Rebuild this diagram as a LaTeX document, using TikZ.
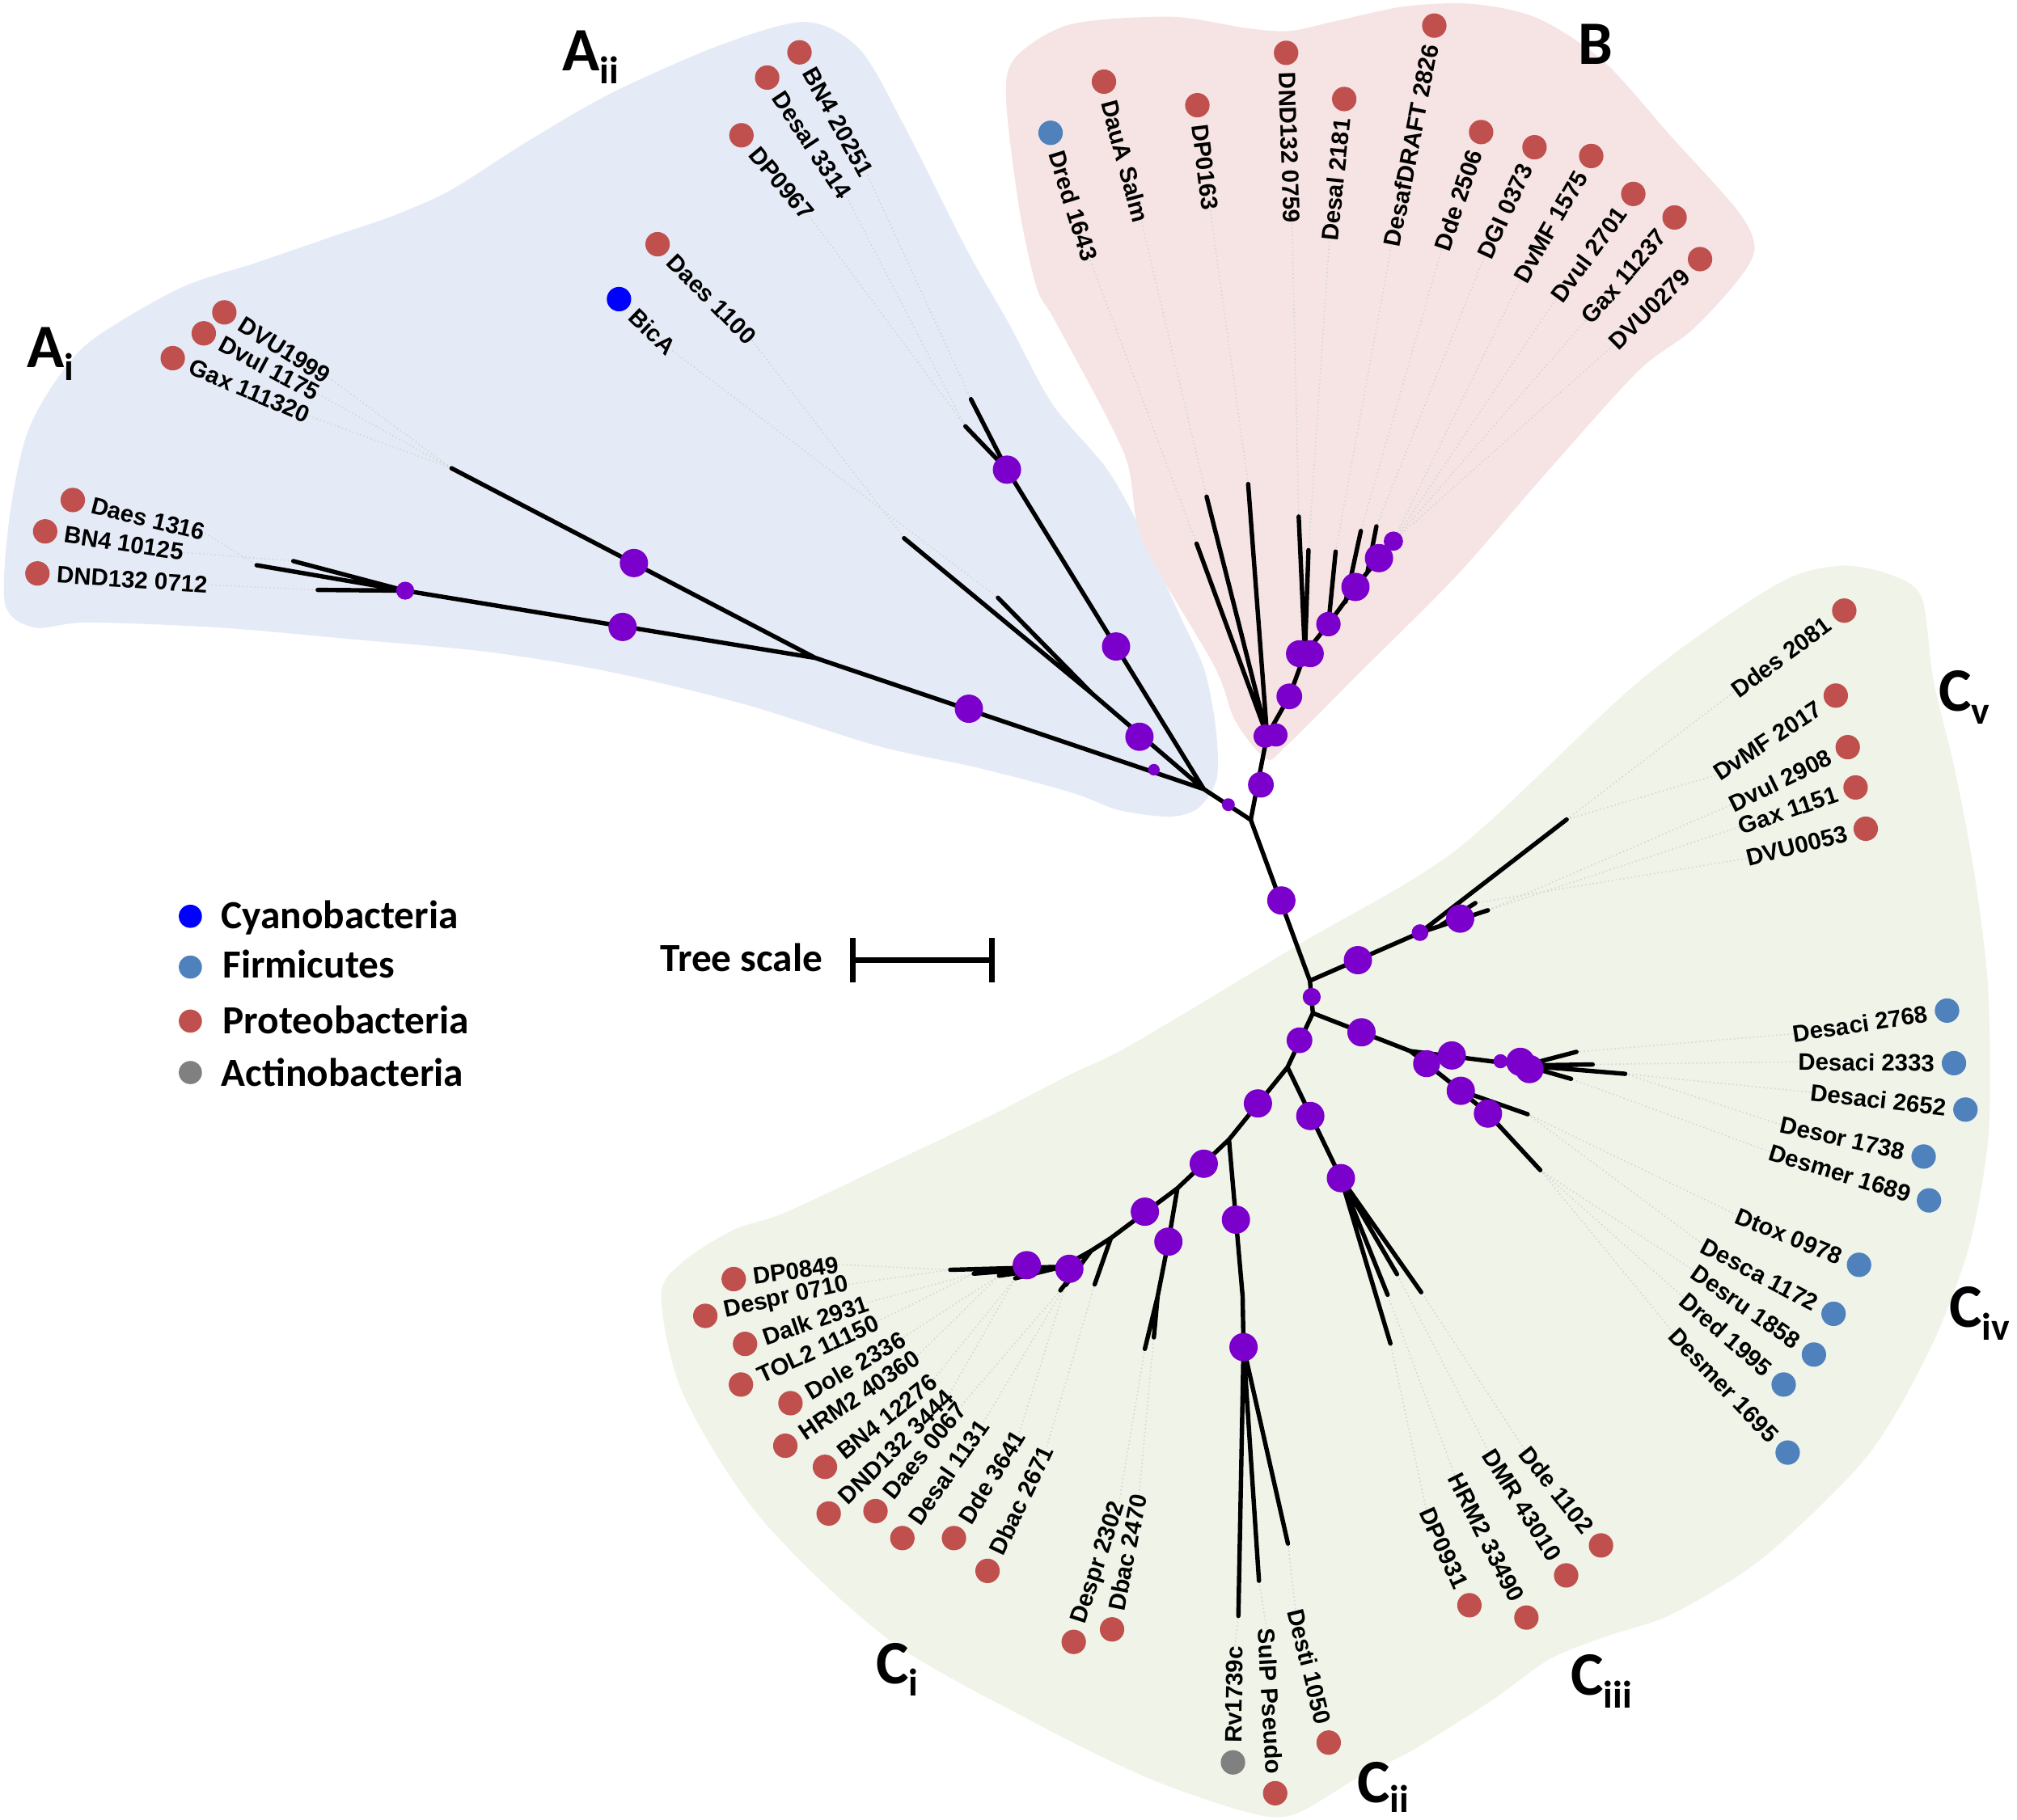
\documentclass[tikz,border=0pt]{standalone}
\usepackage{fontspec}
\setmainfont{Liberation Sans}
\newfontfamily\calfont{Carlito}
\usetikzlibrary{calc}
\pgfdeclarelayer{bgl}
\pgfdeclarelayer{ldl}
\pgfsetlayers{bgl,ldl,main}
\definecolor{proteo}{RGB}{192,80,77}
\definecolor{firmi}{RGB}{79,129,189}
\definecolor{cyano}{RGB}{0,0,255}
\definecolor{actino}{RGB}{128,128,128}
\definecolor{purp}{RGB}{124,0,204}
\definecolor{bgA}{RGB}{229,235,246}
\definecolor{bgB}{RGB}{246,228,228}
\definecolor{bgC}{RGB}{240,244,232}
\tikzset{
 leafdot/.style={circle,draw=none,inner sep=0pt,minimum size=19pt},
 pdot/.style={circle,fill=purp,draw=none,inner sep=0pt},
 lbl/.style={inner sep=0pt,font=\bfseries\fontsize{18.5}{20}\selectfont},
 br/.style={line width=3.4pt,line cap=round,line join=round,black},
 leader/.style={draw=black!16,dotted,line width=1pt},
 leg/.style={inner sep=0pt,font=\calfont\bfseries\fontsize{31}{31}\selectfont},
 cladelbl/.style={inner sep=0pt,anchor=base west,font=\calfont\bfseries\fontsize{48}{48}\selectfont},
}
\newcommand\subl[2][-10pt]{\raisebox{#1}{\fontsize{30}{30}\selectfont #2}}
\newcommand\leafW[6]{\node[leafdot,fill=#4] (#1) at (#2,#3) {};\node[lbl,rotate=#5,anchor=west] (#1t) at ($(#1)+({-(#5)}:15)$) {#6};}
\newcommand\leafE[6]{\node[leafdot,fill=#4] (#1) at (#2,#3) {};\node[lbl,rotate=#5,anchor=east] (#1t) at ($(#1)+({180-(#5)}:15)$) {#6};}
\newcommand\ldr[2]{\draw[leader] (#1) -- (#2);}
\begin{document}
\begin{tikzpicture}[x=1pt,y=-1pt]
\useasboundingbox (0,0) rectangle (1568,1415);
% ---------- clade backgrounds
\begin{pgfonlayer}{bgl}
\fill[bgA] plot[smooth cycle,tension=0.5] coordinates {(4,470) (7,405) (20,340) (42,298) (72,264) (140,224) (200,204) (261,183) (305,168) (350,148) (410,110) (476,72) (560,35) (626,17) (668,38) (702,96) (752,195) (784,251) (818,314) (860,364) (886,410) (916,476) (936,520) (945,565) (946,605) (932,628) (910,635) (870,630) (832,616) (760,597) (682,580) (580,548) (477,523) (380,507) (273,497) (170,488) (68,484) (27,488)};
\fill[bgB] plot[smooth cycle,tension=0.5] coordinates {(782,75) (790,44) (832,19) (910,13) (970,22) (1003,24) (1040,16) (1092,5) (1144,3) (1195,14) (1247,48) (1299,106) (1351,164) (1364,193) (1351,218) (1315,257) (1273,289) (1200,370) (1132,448) (1056,524) (1000,580) (984,590) (960,560) (944,518) (888,420) (874,353) (821,251) (806,224) (792,160)};
\fill[bgC] plot[smooth cycle,tension=0.5] coordinates {(1380,455) (1430,440) (1470,447) (1494,465) (1503,529) (1520,600) (1535,680) (1545,760) (1547,830) (1545,892) (1530,972) (1499,1052) (1451,1133) (1371,1211) (1300,1255) (1250,1272) (1205,1290) (1160,1322) (1098,1361) (1056,1382) (1013,1408) (990,1413) (955,1405) (891,1382) (811,1343) (691,1275) (591,1180) (531,1084) (514,1008) (531,981) (571,956) (610,943) (691,905) (771,867) (831,836) (880,812) (1012,733) (1133,660) (1275,529)};
\end{pgfonlayer}
% ---------- tree coordinates
\coordinate (r0) at (972.3,637.5);
\coordinate (jA) at (935.8,613.6);
\coordinate (jA1) at (633.9,511.6);
\coordinate (ai) at (315,459.3);
\coordinate (ai1) at (199.5,439.5);
\coordinate (ai2) at (228,436.3);
\coordinate (ai3) at (247,458.7);
\coordinate (a1e) at (351,364.1);
\coordinate (jA2) at (848.8,539.2);
\coordinate (a2e1) at (702.8,418.5);
\coordinate (a2e2) at (775.8,464.8);
\coordinate (jA3) at (782.8,365.2);
\coordinate (a3e1) at (754.8,310.4);
\coordinate (a3e2) at (750.5,331.5);
\coordinate (pb) at (985,572);
\coordinate (pe1) at (930.2,422.7);
\coordinate (pe2) at (938,386.2);
\coordinate (pe3) at (970.3,376.4);
\coordinate (p1) at (1002.3,541.5);
\coordinate (p2) at (1014.4,508.3);
\coordinate (p3) at (1032.7,485.3);
\coordinate (p4) at (1053.7,456.4);
\coordinate (p5) at (1072,434);
\coordinate (p6) at (1083.2,420.8);
\coordinate (pe4) at (1009.6,401.7);
\coordinate (pe5) at (1017.2,427.8);
\coordinate (pe6) at (1038.3,428.9);
\coordinate (p34) at (1046,468);
\coordinate (pe7) at (1057.9,412.9);
\coordinate (p45) at (1063,445);
\coordinate (pe8) at (1070,409.3);
\coordinate (g1) at (1018.3,762.6);
\coordinate (cvj) at (1103.9,725.2);
\coordinate (cve1) at (1217.9,637.2);
\coordinate (cve2) at (1156.7,707.8);
\coordinate (cvs) at (1120,719.5);
\coordinate (cve3) at (1146.9,702.2);
\coordinate (g2) at (1020.6,787.8);
\coordinate (civ1) at (1096.3,817.3);
\coordinate (civa) at (1185,828.5);
\coordinate (cie1) at (1225.5,817.9);
\coordinate (cie2) at (1238.1,827.7);
\coordinate (cie3) at (1263.4,835);
\coordinate (cie4) at (1221.3,838.9);
\coordinate (civb) at (1109,827.1);
\coordinate (civc) at (1135.6,848.2);
\coordinate (cie5) at (1187.6,866.4);
\coordinate (civd) at (1156.7,865.9);
\coordinate (cie6) at (1197.4,909.9);
\coordinate (g3) at (1000.9,829.9);
\coordinate (c3a) at (1042.4,916.1);
\coordinate (c3e1) at (1080.9,1044.7);
\coordinate (c3e2) at (1078.7,1006.8);
\coordinate (c3e3) at (1086,990.8);
\coordinate (c3e4) at (1104.8,1004.8);
\coordinate (g4) at (955.4,886.1);
\coordinate (g5) at (915.3,924);
\coordinate (c2a) at (960.8,948.4);
\coordinate (c2b) at (966,1008);
\coordinate (c2c) at (966.7,1047.5);
\coordinate (c2e1) at (962.7,1256.5);
\coordinate (c2e2) at (978.7,1229.2);
\coordinate (c2e3) at (1001.2,1200.3);
\coordinate (cba) at (908.3,965.5);
\coordinate (cbb) at (899.9,1008.2);
\coordinate (cbe1) at (890,1048.9);
\coordinate (cbe2) at (897,1039.9);
\coordinate (ci1) at (863.6,962.7);
\coordinate (ci1e) at (851,998.7);
\coordinate (ci2) at (848.2,972.6);
\coordinate (ci3) at (826,985);
\coordinate (cie) at (738.7,987.4);
\coordinate (cs1) at (757,990.4);
\coordinate (cs2) at (776.6,992);
\coordinate (cs3) at (789.2,994);
\coordinate (cs4) at (824.3,1003.4);
\coordinate (cs5) at (828.5,999.2);
% ---------- branches
\draw[br] (r0)--(jA)--(jA1)--(ai)--(ai1) (ai)--(ai2) (ai)--(ai3) (jA1)--(a1e)
 (jA)--(jA2)--(a2e1) (jA2)--(a2e2) (jA)--(jA3)--(a3e1) (jA3)--(a3e2);
\draw[br] (r0)--(pb)--(pe1) (pb)--(pe2) (pb)--(pe3) (pb)--(p1)--(p2)--(p3)--(p4)--(p5)--(p6)
 (p2)--(pe4) (p2)--(pe5) (p3)--(pe6) (p34)--(pe7) (p45)--(pe8);
\draw[br] (r0)--(g1)--(g2)--(g3)--(g4)--(g5)--(ci1)--(ci2)--(ci3)--(cie)
 (g1)--(cvj)--(cve1) (cvj)--(cve2) (cvs)--(cve3)
 (g2)--(civ1)--(civa)--(cie1) (civa)--(cie2) (civa)--(cie3) (civa)--(cie4)
 (civ1)--(civb)--(civc)--(cie5) (civc)--(civd)--(cie6)
 (g3)--(c3a)--(c3e1) (c3a)--(c3e2) (c3a)--(c3e3) (c3a)--(c3e4)
 (g4)--(c2a)--(c2b)--(c2c)--(c2e1) (c2c)--(c2e2) (c2c)--(c2e3)
 (g5)--(cba)--(cbb)--(cbe1) (cbb)--(cbe2)
 (ci1)--(ci1e) (ci3)--(cs1) (ci3)--(cs2) (ci3)--(cs3) (ci2)--(cs4) (ci2)--(cs5);
% ---------- support dots
\foreach \x/\y/\s [count=\i] in {315/459.3/14, 484/487.5/22, 492.8/437.8/22, 753.2/551.1/22, 897/598.5/9, 885.8/572.9/22, 867.6/502.7/22, 782.8/365.2/22, 954.9/625.7/10,
 980.2/610.2/20, 983.5/572.4/18, 991.9/571.5/18, 1002.3/541.5/20, 1010.2/508.3/21, 1018.6/508.3/21, 1032.7/485.3/19, 1053.7/456.4/22, 1072/434/22, 1083.2/420.8/15,
 996.1/700.2/22, 1055.6/746.6/22, 1103.9/725.2/13, 1135.1/714.3/22, 1019.7/775.2/14, 1058.4/802.7/22, 1109/827.1/21, 1128.6/820.7/22, 1166.5/825.2/11, 1181.9/825.7/22, 1189/831.3/22, 1135.6/848.2/22, 1156.7/865.9/22, 1010.2/808.9/20, 1018.6/867.8/22, 1042.4/916.1/22, 977.9/858/22, 935.8/904.9/22, 890/942.2/22, 960.8/948.4/22, 908.3/965.5/22, 966.7/1047.5/22, 831.3/986.6/22, 798.2/983.8/22}
 \node[pdot,minimum size=\s pt] (pd\i) at (\x,\y) {};
% ---------- leaves A_i
\leafW{l1}{174.4}{242.9}{proteo}{-32}{DVU1999}
\leafW{l2}{158.4}{259.2}{proteo}{-28}{Dvul 1175}
\leafW{l3}{134.3}{278.5}{proteo}{-23}{Gax 111320}
\leafW{l4}{56.6}{388.8}{proteo}{-14}{Daes 1316}
\leafW{l5}{35.1}{413.2}{proteo}{-8.6}{BN4 10125}
\leafW{l6}{29.1}{445.9}{proteo}{-3.8}{DND132 0712}
% A_ii
\leafW{l7}{621.5}{40.7}{proteo}{-61}{BN4 20251}
\leafW{l8}{596.4}{60.3}{proteo}{-56.4}{Desal 3314}
\leafW{l9}{576.4}{105.2}{proteo}{-50}{DP0967}
\leafW{l10}{511.2}{189.9}{proteo}{-45.5}{Daes 1100}
\leafW{l11}{481.2}{232.6}{cyano}{-44}{BicA}
% B
\leafW{l12}{816.7}{103.3}{firmi}{-72.7}{Dred 1643}
\leafW{l13}{858.2}{63.5}{proteo}{-75}{DauA Salm}
\leafW{l14}{930.8}{81.8}{proteo}{-83}{DP0163}
\leafW{l15}{999.8}{41.1}{proteo}{-88}{DND132 0759}
\leafE{l16}{1045}{77}{proteo}{84}{Desal 2181}
\leafE{l17}{1115}{19.9}{proteo}{79}{DesafDRAFT 2826}
\leafE{l18}{1151.4}{102.7}{proteo}{71.4}{Dde 2506}
\leafE{l19}{1192.9}{114.5}{proteo}{65.4}{DGI 0373}
\leafE{l20}{1237}{121.3}{proteo}{60.3}{DvMF 1575}
\leafE{l21}{1269.7}{150.8}{proteo}{53.6}{Dvul 2701}
\leafE{l22}{1301.8}{169.1}{proteo}{49.2}{Gax 11237}
\leafE{l23}{1321.6}{201.5}{proteo}{44.8}{DVU0279}
% C_v
\leafE{l24}{1433.7}{474.8}{proteo}{36.4}{Ddes 2081}
\leafE{l25}{1427.1}{540.9}{proteo}{33.5}{DvMF 2017}
\leafE{l26}{1436.4}{581}{proteo}{26.3}{Dvul 2908}
\leafE{l27}{1442.5}{612.3}{proteo}{18.8}{Gax 1151}
\leafE{l28}{1450.4}{644.4}{proteo}{14}{DVU0053}
% C_iv
\leafE{l29}{1513.6}{785.8}{firmi}{8.6}{Desaci 2768}
\leafE{l30}{1519}{826.7}{firmi}{-0.5}{Desaci 2333}
\leafE{l31}{1527.9}{862.8}{firmi}{-6.4}{Desaci 2652}
\leafE{l32}{1495.4}{899.3}{firmi}{-12.6}{Desor 1738}
\leafE{l33}{1499.6}{933.4}{firmi}{-17}{Desmer 1689}
\leafE{l34}{1445.2}{983.5}{firmi}{-22.2}{Dtox 0978}
\leafE{l35}{1425.4}{1021.6}{firmi}{-28}{Desca 1172}
\leafE{l36}{1410.1}{1053.3}{firmi}{-35}{Desru 1858}
\leafE{l37}{1386.6}{1076.6}{firmi}{-41}{Dred 1995}
\leafE{l38}{1389.7}{1129.5}{firmi}{-46.4}{Desmer 1695}
% C_iii
\leafE{l39}{1244.6}{1201.7}{proteo}{-51.5}{Dde 1102}
\leafE{l40}{1217.5}{1225}{proteo}{-58}{DMR 43010}
\leafE{l41}{1186.6}{1257.8}{proteo}{-63.3}{HRM2 33490}
\leafE{l42}{1142.3}{1248.2}{proteo}{-65.8}{DP0931}
% C_ii
\leafW{l43}{958.5}{1370.4}{actino}{89}{Rv1739c}
\leafE{l44}{991.3}{1394.4}{proteo}{-87}{SulP Pseudo}
\leafE{l45}{1032.9}{1355}{proteo}{-76}{Desti 1050}
% C_i
\leafW{l46}{570.4}{994.6}{proteo}{7.9}{DP0849}
\leafW{l47}{548.3}{1023.2}{proteo}{12.4}{Despr 0710}
\leafW{l48}{579.2}{1045}{proteo}{18.6}{Dalk 2931}
\leafW{l49}{576}{1076.6}{proteo}{24.8}{TOL2 11150}
\leafW{l50}{614.5}{1091.1}{proteo}{30.3}{Dole 2336}
\leafW{l51}{610.5}{1124.2}{proteo}{34.3}{HRM2 40360}
\leafW{l52}{641.3}{1140.6}{proteo}{38.9}{BN4 12276}
\leafW{l53}{644.2}{1176.9}{proteo}{44.8}{DND132 3444}
\leafW{l54}{680.6}{1175}{proteo}{50.9}{Daes 0067}
\leafW{l55}{701.5}{1196}{proteo}{55}{Desal 1131}
\leafW{l56}{741.6}{1196}{proteo}{58.2}{Dde 3641}
\leafW{l57}{767.7}{1221.5}{proteo}{64.5}{Dbac 2671}
\leafW{l58}{834.7}{1276.7}{proteo}{72}{Despr 2302}
\leafW{l59}{864.5}{1267}{proteo}{78.7}{Dbac 2470}
% ---------- faint dotted leaders from tips to labels
\begin{pgfonlayer}{ldl}
\ldr{l1t.east}{a1e}\ldr{l2t.east}{a1e}\ldr{l3t.east}{a1e}
\ldr{l4t.east}{ai1}\ldr{l5t.east}{ai2}\ldr{l6t.east}{ai3}
\ldr{l7t.east}{a3e1}\ldr{l8t.east}{a3e2}\ldr{l9t.east}{a3e2}\ldr{l10t.east}{a2e1}\ldr{l11t.east}{a2e2}
\ldr{l12t.east}{pe1}\ldr{l13t.east}{pe2}\ldr{l14t.east}{pe3}\ldr{l15t.east}{pe4}
\ldr{l16t.west}{pe5}\ldr{l17t.west}{pe6}\ldr{l18t.west}{pe7}\ldr{l19t.west}{pe8}
\ldr{l20t.west}{p6}\ldr{l21t.west}{p6}\ldr{l22t.west}{p6}\ldr{l23t.west}{p6}
\ldr{l24t.west}{cve1}\ldr{l25t.west}{cve1}\ldr{l26t.west}{cve2}\ldr{l27t.west}{cve2}\ldr{l28t.west}{cve3}
\ldr{l29t.west}{cie1}\ldr{l30t.west}{cie2}\ldr{l31t.west}{cie3}\ldr{l32t.west}{cie3}\ldr{l33t.west}{cie4}
\ldr{l34t.west}{cie5}\ldr{l35t.west}{cie5}\ldr{l36t.west}{cie6}\ldr{l37t.west}{cie6}\ldr{l38t.west}{cie6}
\ldr{l39t.west}{c3e4}\ldr{l40t.west}{c3e3}\ldr{l41t.west}{c3e2}\ldr{l42t.west}{c3e1}
\ldr{l43t.east}{c2e1}\ldr{l44t.west}{c2e2}\ldr{l45t.west}{c2e3}
\ldr{l46t.east}{cie}\ldr{l47t.east}{cie}\ldr{l48t.east}{cs1}\ldr{l49t.east}{cs1}\ldr{l50t.east}{cs2}
\ldr{l51t.east}{cs2}\ldr{l52t.east}{cs3}\ldr{l53t.east}{cs3}\ldr{l54t.east}{cs4}\ldr{l55t.east}{cs5}
\ldr{l56t.east}{cs5}\ldr{l57t.east}{ci1e}\ldr{l58t.east}{cbe1}\ldr{l59t.east}{cbe2}
\end{pgfonlayer}
% ---------- clade labels
\node[cladelbl] (cAi) at (21,285.5) {A\subl{i}};
\node[cladelbl] (cAii) at (437,55) {A\subl{ii}};
\node[cladelbl] (cB) at (1227,50) {B};
\node[cladelbl] (cCv) at (1507,553) {C\subl{v}};
\node[cladelbl] (cCiv) at (1515,1032) {C\subl{iv}};
\node[cladelbl] (cCiii) at (1221,1318) {C\subl{iii}};
\node[cladelbl] (cCii) at (1055,1402) {C\subl[-7pt]{ii}};
\node[cladelbl] (cCi) at (681,1309) {C\subl{i}};
% ---------- legend
\node[leafdot,fill=cyano,minimum size=18pt] (lgc) at (148,712.5) {};
\node[leg,anchor=base west] (lgct) at (172,722) {Cyanobacteria};
\node[leafdot,fill=firmi,minimum size=18pt] (lgf) at (148,752) {};
\node[leg,anchor=base west] (lgft) at (173,760.7) {Firmicutes};
\node[leafdot,fill=proteo,minimum size=18pt] (lgp) at (148,794) {};
\node[leg,anchor=base west] (lgpt) at (173,803.5) {Proteobacteria};
\node[leafdot,fill=actino,minimum size=18pt] (lga) at (148,834) {};
\node[leg,anchor=base west] (lgat) at (172,844.4) {Actinobacteria};
% ---------- tree scale
\node[leg,anchor=base west] (tsc) at (513,755.5) {Tree scale};
\coordinate (sb1) at (663,746.6);
\coordinate (sb2) at (771,746.6);
\draw[line width=4pt] (sb1)--(sb2);
\draw[line width=4pt] ($(sb1)+(0,-17)$)--($(sb1)+(0,17)$);
\draw[line width=4pt] ($(sb2)+(0,-17)$)--($(sb2)+(0,17)$);
\end{tikzpicture}
\end{document}
